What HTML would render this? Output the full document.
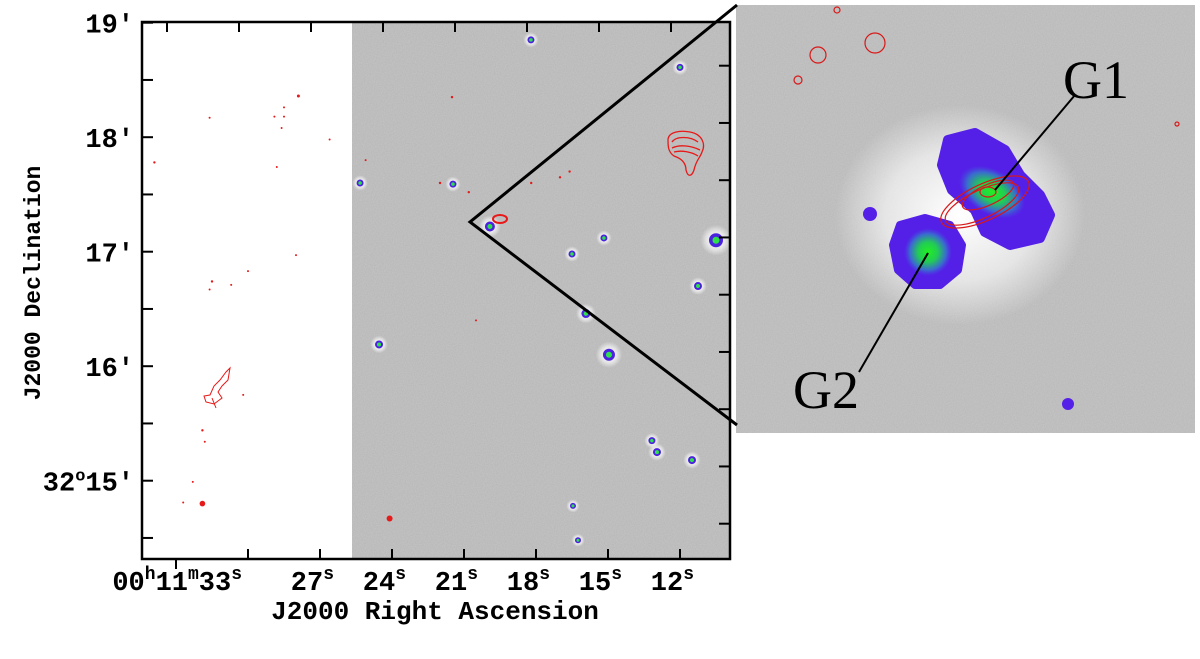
<!DOCTYPE html>
<html><head><meta charset="utf-8"><style>
html,body{margin:0;padding:0;background:#fff;}
svg{display:block;}
.t{font-family:"Liberation Mono","DejaVu Sans Mono",monospace;font-size:27px;font-weight:bold;fill:#000;}
.at{font-family:"Liberation Mono","DejaVu Sans Mono",monospace;font-weight:bold;fill:#000;}
.gl{font-family:"Liberation Serif",serif;font-size:54px;fill:#000;}
</style></head><body>
<svg id="fig" width="1200" height="659" viewBox="0 0 1200 659" xmlns="http://www.w3.org/2000/svg">
<defs>
<filter id="noise" x="0" y="0" width="100%" height="100%">
<feTurbulence type="fractalNoise" baseFrequency="0.9" numOctaves="1" seed="3" result="n"/>
<feColorMatrix type="matrix" values="0 0 0 0 0.62  0 0 0 0 0.62  0 0 0 0 0.62  0.8 0 0 0 0.05"/>
</filter>
<radialGradient id="halo"><stop offset="0" stop-color="#fff" stop-opacity="1"/><stop offset="0.6" stop-color="#fff" stop-opacity="0.6"/><stop offset="1" stop-color="#fff" stop-opacity="0"/></radialGradient>
<radialGradient id="gal"><stop offset="0" stop-color="#22ee22"/><stop offset="0.35" stop-color="#22cc55"/><stop offset="0.65" stop-color="#3a6ad0"/><stop offset="0.85" stop-color="#5420e8" stop-opacity="0.6"/><stop offset="1" stop-color="#5420e8" stop-opacity="0"/></radialGradient>
<clipPath id="frameclip"><rect x="142" y="22" width="588" height="537"/></clipPath>
</defs>

<g id="main">
<rect x="142" y="22" width="588" height="537" fill="#fff"/>
<rect x="352" y="22" width="378" height="537" fill="#b4b4b4"/>
<rect x="352" y="22" width="378" height="537" fill="#b4b4b4" filter="url(#noise)" opacity="0.8"/>
<g id="stars" clip-path="url(#frameclip)"></g>
<g id="reds" clip-path="url(#frameclip)"></g>
<path d="M668,140 C668,132 680,130 690,132 C702,134 706,144 702,152 C700,158 696,160 694,170 C692,176 688,178 686,170 C686,162 680,158 674,156 C668,152 668,146 668,140 Z M672,142 C676,136 690,136 698,142 M672,148 C680,144 692,146 700,150 M674,152 C682,150 692,152 698,156" fill="none" stroke="#e81818" stroke-width="1.3"/>
<path d="M210,395 L214,386 L220,380 L226,372 L230,368 L228,380 L222,386 L218,392 L222,398 L214,404 L206,402 L204,396 Z M212,398 L216,408" fill="none" stroke="#e81818" stroke-width="1"/>
<ellipse cx="500" cy="219" rx="7" ry="4" fill="none" stroke="#e81818" stroke-width="2"/>
<rect x="142" y="22" width="588" height="537" fill="none" stroke="#000" stroke-width="2.5"/>
<g id="ticks" stroke="#000" stroke-width="2"></g>
</g>

<g id="inset">
<rect x="736" y="5" width="459" height="428" fill="#b6b6b6"/>
<rect x="736" y="5" width="459" height="428" fill="#b6b6b6" filter="url(#noise)" opacity="0.8"/>
<ellipse cx="960" cy="215" rx="125" ry="110" fill="url(#halo)"/>
<path d="M948,140 L975,133 L1005,150 L1020,175 L1040,195 L1050,215 L1040,238 L1010,245 L985,232 L975,210 L952,190 L942,165 Z" fill="#5420e8" stroke="#5420e8" stroke-width="10" stroke-linejoin="round"/>
<ellipse cx="992" cy="192" rx="42" ry="26" transform="rotate(30 992 192)" fill="url(#gal)"/>
<path d="M900,225 L925,218 L950,225 L962,245 L958,270 L940,285 L915,285 L898,270 L893,245 Z" fill="#5420e8" stroke="#5420e8" stroke-width="8" stroke-linejoin="round"/>
<circle cx="928" cy="252" r="28" fill="url(#gal)"/>
<circle cx="870" cy="214" r="7" fill="#5420e8"/>
<circle cx="1068" cy="404" r="6" fill="#5420e8"/>
<g fill="none" stroke="#d81818" stroke-width="1.2">
<ellipse cx="985" cy="202" rx="48" ry="18" transform="rotate(-25 985 202)"/>
<ellipse cx="982" cy="204" rx="40" ry="14" transform="rotate(-25 982 204)"/>
<ellipse cx="988" cy="195" rx="28" ry="10" transform="rotate(-25 988 195)"/>
<ellipse cx="988" cy="192" rx="8" ry="5"/>
</g>
<g fill="none" stroke="#d81818" stroke-width="1.2">
<circle cx="818" cy="55" r="8"/><circle cx="875" cy="43" r="10"/><circle cx="798" cy="80" r="4"/><circle cx="837" cy="10" r="3"/><circle cx="1177" cy="124" r="2"/>
</g>
<line x1="1075" y1="95" x2="995" y2="190" stroke="#000" stroke-width="2"/>
<line x1="859" y1="372" x2="928" y2="253" stroke="#000" stroke-width="2"/>
<text x="1063" y="98" class="gl">G1</text>
<text x="793" y="408" class="gl">G2</text>
</g>

<polyline points="737,5 470,222 737,425" fill="none" stroke="#000" stroke-width="3"/>

<g id="labels"></g>
<text class="at" font-size="23" transform="translate(40,283) rotate(-90)" text-anchor="middle">J2000 Declination</text>
<text class="at" font-size="26" x="435" y="619" text-anchor="middle">J2000 Right Ascension</text>
</svg>
<script>
// axis data
const raTicks = [33, 30, 27, 24, 21, 18, 15, 12];
const raLabels = ["33", "", "27", "24", "21", "18", "15", "12"];
const decTicks = [19, 18, 17, 16, 15];
const decLabels = ["19′", "18′", "17′", "16′", "32°15′"];
// point sources (RA seconds, Dec arcmin, size)
const starRA = [18.21, 12.0, 25.33, 21.46, 19.92, 15.17, 16.5, 10.5, 11.25, 15.92, 14.96, 24.54, 13.17, 12.96, 11.5, 16.46, 16.25];
const starDec = [18.85, 18.61, 17.60, 17.59, 17.22, 17.12, 16.98, 17.10, 16.70, 16.46, 16.10, 16.19, 15.35, 15.25, 15.18, 14.78, 14.48];
const starSize = [3.5, 3.5, 3.5, 3.5, 5, 3.5, 3.5, 7, 4, 4.5, 6, 4, 3.5, 4, 4, 3, 3];
// radio components (RA seconds, Dec arcmin)
const redRA = [31.6, 28.9, 28.5, 27.9, 28.5, 28.6, 26.6, 28.8, 33.9, 28.0, 30.0, 31.5, 31.6, 30.7, 30.2, 31.9, 31.8, 32.3, 32.7, 31.9, 24.1, 22.0, 20.8, 18.2, 17.0, 16.6, 25.1, 21.5, 20.5];
const redDec = [18.17, 18.18, 18.26, 18.36, 18.18, 18.08, 17.98, 17.74, 17.78, 16.97, 16.83, 16.74, 16.67, 16.71, 15.75, 15.44, 15.34, 14.99, 14.81, 14.80, 14.67, 17.60, 17.52, 17.60, 17.65, 17.70, 17.80, 18.35, 16.4];
const redSize = [1, 1, 1, 1.5, 1, 1, 1, 1, 1.2, 1, 1, 1.2, 1, 1, 1, 1.2, 1, 1, 1, 2.8, 3, 1.2, 1.2, 1.2, 1.2, 1.2, 1, 1.2, 1];

const NS = "http://www.w3.org/2000/svg";
function xRA(s){ return 176 + (33 - s) * 24; }
function yDec(m){ return 22.7 + (19 - m) * 114.5; }
function mk(tag, attrs, parent){ const e = document.createElementNS(NS, tag); for (const k in attrs) e.setAttribute(k, attrs[k]); parent.appendChild(e); return e; }

const stars = document.getElementById('stars');
starRA.forEach((ra, i) => {
  const cx = xRA(ra), cy = yDec(starDec[i]), r = starSize[i];
  const g = mk('g', {}, stars);
  
  
  mk('circle', {cx, cy, r: r * 2.2, fill: 'url(#halo)'}, g);
  mk('circle', {cx, cy, r: r, fill: '#4b22dd'}, g);
  mk('circle', {cx, cy, r: r * 0.5, fill: '#2ee04a'}, g);
});
const reds = document.getElementById('reds');
redRA.forEach((ra, i) => {
  const c = mk('circle', {cx: xRA(ra), cy: yDec(redDec[i]), r: redSize[i], fill: '#e51a1a'}, reds);
  
  
});

const ticks = document.getElementById('ticks');
const labels = document.getElementById('labels');
raTicks.forEach((s, i) => {
  const x = xRA(s);
  const b = mk('line', {x1: x, y1: 559, x2: x, y2: i === 0 ? 569 : 549}, ticks);
  
  
  const t = mk('line', {x1: x - 9, y1: 22, x2: x - 9, y2: 32}, ticks);
  
  
  if (raLabels[i]) {
    const tx = mk('text', {x: i === 0 ? 242 : x + 14, y: 590, 'text-anchor': 'end', class: 't'}, labels);
    
    
    if (i === 0) {
      tx.innerHTML = '00<tspan dy="-11" font-size="18">h</tspan><tspan dy="11">11</tspan><tspan dy="-11" font-size="18">m</tspan><tspan dy="11">33</tspan><tspan dy="-11" font-size="18">s</tspan>';
    } else {
      tx.innerHTML = raLabels[i] + '<tspan dy="-11" font-size="18">s</tspan>';
    }
  }
});
for (let m = 19; m >= 14.5; m -= 0.5) {
  const y = yDec(m);
  const l = mk('line', {x1: 142, y1: y, x2: 153, y2: y}, ticks);
  
  
  if (y + 43 < 555) {
    const r = mk('line', {x1: 730, y1: y + 43, x2: 719, y2: y + 43}, ticks);
    
    
  }
}
decTicks.forEach((m, i) => {
  const t = mk('text', {x: 134, y: yDec(m) + 10, 'text-anchor': 'end', class: 't'}, labels);
  
  
  if (i === 4) t.innerHTML = '32<tspan dy="-10" font-size="17">o</tspan><tspan dy="10">15′</tspan>';
  else t.textContent = decLabels[i];
});
</script>
</body></html>
